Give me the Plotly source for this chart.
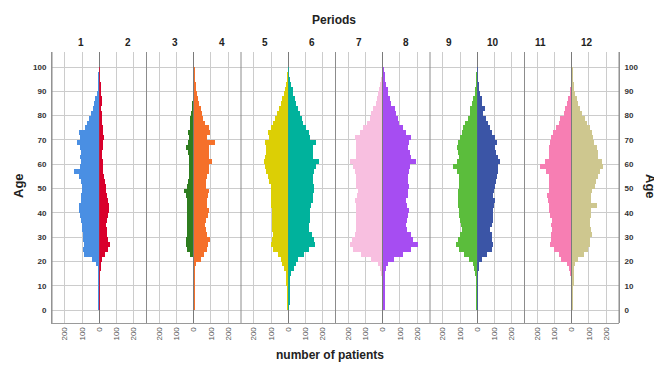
import plotly.graph_objects as go

# ---- data -------------------------------------------------------------
age_bins = list(range(0, 100, 2))          # 2-year bins, bin start
periods = ["1", "2", "3", "4", "5", "6", "7", "8", "9", "10", "11", "12"]

p1 = [2,3,3,4,4,4,5,6,10,20,45,88,92,90,95,95,98,100,105,112,120,118,108,105,102,
      103,105,118,147,112,108,110,108,112,128,110,118,85,72,58,48,38,32,22,15,8,5,3,2,1]
p2 = [2,2,2,3,3,3,3,4,6,10,20,35,52,62,55,47,45,43,45,50,58,60,50,45,40,
      38,35,28,25,22,22,20,20,22,24,27,24,22,20,18,17,14,15,15,14,10,6,4,3,2]
p3 = [1,1,1,1,1,2,2,2,2,3,8,25,40,48,50,45,40,42,40,40,42,45,42,48,60,
      42,35,32,30,31,32,33,38,50,38,32,36,26,24,22,20,14,12,10,8,5,3,2,1,0]
p4 = [2,2,2,2,2,3,3,3,4,10,38,56,75,80,95,78,70,66,70,80,85,78,76,80,85,
      68,70,76,85,90,105,88,85,88,124,78,95,88,66,55,47,38,28,22,16,12,6,3,2,1]
p5 = [3,4,6,8,10,12,12,16,25,35,45,60,90,103,95,90,92,95,95,95,95,100,103,103,103,
      103,110,118,128,135,142,134,130,128,138,114,118,100,90,80,64,55,45,35,25,20,12,6,3,1]
p6 = [4,6,8,10,10,12,14,17,37,45,56,95,124,157,150,138,125,124,126,128,130,134,143,145,150,
      153,148,143,150,163,182,143,145,143,163,130,124,105,90,80,72,60,47,38,30,27,15,6,3,1]
p7 = [4,5,6,6,7,8,9,12,20,31,70,128,176,196,180,167,160,157,157,157,157,160,167,150,147,
      157,157,157,167,175,196,161,160,157,160,167,138,118,95,80,70,58,45,38,30,25,18,12,6,3]
p8 = [6,7,8,9,10,10,12,14,20,27,66,114,163,202,175,163,140,134,140,148,153,140,134,143,148,
      153,148,143,153,160,192,163,155,143,150,163,134,114,95,85,76,72,47,38,30,27,20,14,6,3]
p9 = [3,4,4,5,6,8,9,12,18,25,50,80,109,122,110,103,89,95,99,105,109,110,114,112,110,
      109,108,109,120,142,118,109,112,118,110,99,89,82,70,55,45,41,31,22,15,12,7,4,2,1]
p10 = [2,3,3,3,3,3,4,4,6,8,27,56,85,95,90,85,76,90,95,95,95,100,105,95,100,
       105,110,114,120,124,134,124,110,105,114,105,85,76,66,50,37,47,30,27,18,14,8,4,2,1]
p11 = [3,4,4,5,6,6,8,12,20,31,64,80,109,128,125,122,118,122,118,130,138,134,140,147,138,
       134,134,138,150,186,161,138,136,134,130,122,114,95,80,70,50,42,31,22,15,12,7,4,2,1]
p12 = [3,4,4,5,5,6,6,8,12,17,37,72,91,105,105,114,110,105,105,108,110,143,112,110,114,
       134,140,153,165,182,172,153,150,143,130,124,114,105,90,76,56,47,35,27,18,12,8,4,2,1]

series = [p1, p2, p3, p4, p5, p6, p7, p8, p9, p10, p11, p12]
colors = ["#4a8fe3", "#d9002c", "#2e7d1f", "#f5702a", "#dccf05", "#00b29c",
          "#f8bfe0", "#a64df2", "#5bbd3c", "#3b55a6", "#f77eb3", "#cec78f"]
x_ticks = [0, 100, 200]
y_ticks = list(range(0, 101, 10))

# ---- layout geometry (page pixels; page body has an 8px offset) ------
OFF = 8
W, H = 662 - OFF, 365 - OFF
L, R, T, B = 52 - OFF, 619 - OFF, 52 - OFF, 323 - OFF
xmax = 275
n = len(periods)

fig = go.Figure()
centers = [a + 1 for a in age_bins]

for i, (vals, col) in enumerate(zip(series, colors)):
    ax = "" if i == 0 else str(i + 1)
    fig.add_trace(go.Bar(
        x=vals, y=centers, orientation="h", width=2,
        marker=dict(color=col, line=dict(width=0)),
        xaxis="x" + ax, yaxis="y", showlegend=False,
        hovertemplate="Age %{y}: %{x}<extra></extra>"))

# invisible trace to carry the right-hand age axis
fig.add_trace(go.Scatter(x=[None], y=[None], xaxis="x", yaxis="y2",
                         showlegend=False, hoverinfo="skip"))

layout = dict(
    width=W, height=H,
    margin=dict(l=L, r=W - R, t=T, b=H - B, autoexpand=False),
    paper_bgcolor="white", plot_bgcolor="white",
    bargap=0, barmode="overlay",
    font=dict(family="Liberation Sans, Arial, sans-serif", color="#222"),
)

for i in range(n):
    key = "xaxis" if i == 0 else "xaxis%d" % (i + 1)
    left = (i % 2 == 0)
    tv = x_ticks if left else x_ticks[1:]
    layout[key] = dict(
        domain=[i / n, (i + 1) / n],
        range=[xmax, 0] if left else [0, xmax],
        anchor="y",
        tickvals=tv, ticktext=[str(v) for v in tv],
        tickangle=-90, ticks="",
        tickfont=dict(size=8, color="#555"),
        showgrid=True, gridcolor="#cccccc", gridwidth=1,
        zeroline=True, zerolinecolor="#7a7a7a", zerolinewidth=1,
        showline=True, linecolor="#9a9a9a", linewidth=1,
        fixedrange=True, automargin=False,
    )

ycommon = dict(range=[-5.3, 106.2], tickvals=y_ticks,
               ticktext=["<b>%d</b>" % v for v in y_ticks], ticks="",
               tickfont=dict(size=8, color="#333"), zeroline=False,
               fixedrange=True, automargin=False)
layout["yaxis"] = dict(**ycommon, showgrid=True, gridcolor="#cccccc",
                       gridwidth=1, anchor="x", side="left",
                       showline=True, linecolor="#9a9a9a", ticklabelstandoff=3)
layout["yaxis2"] = dict(**ycommon, showgrid=False, overlaying="y",
                        side="right", anchor="free", position=1.0,
                        showline=True, linecolor="#9a9a9a", ticklabelstandoff=3)

# pair boundary lines
shapes = []
for k in range(0, n + 1, 2):
    shapes.append(dict(type="line", xref="paper", yref="paper",
                       x0=k / n, x1=k / n, y0=0, y1=1,
                       line=dict(color="#8c8c8c", width=1), layer="above"))
layout["shapes"] = shapes

pw = R - L
ph = B - T


def px_x(px):  # page pixel -> paper x
    return (px - OFF - L) / pw


def px_y(py):  # page pixel -> paper y
    return 1 - (py - OFF - T) / ph


ann = []
for i, p in enumerate(periods):
    ann.append(dict(text="<b>%s</b>" % p, x=(i + 0.5) / n, y=px_y(42),
                    xref="paper", yref="paper", showarrow=False,
                    font=dict(size=10, color="#222"), yanchor="middle"))
ann.append(dict(text="<b>Periods</b>", x=px_x(334), y=px_y(20),
                xref="paper", yref="paper", showarrow=False,
                font=dict(size=12, color="#222"), yanchor="middle"))
ann.append(dict(text="<b>number of patients</b>", x=px_x(330), y=px_y(355),
                xref="paper", yref="paper", showarrow=False,
                font=dict(size=12, color="#222"), yanchor="middle"))
ann.append(dict(text="<b>Age</b>", x=px_x(18), y=px_y(186),
                xref="paper", yref="paper", showarrow=False, textangle=-90,
                font=dict(size=13, color="#222"), xanchor="center", yanchor="middle"))
ann.append(dict(text="<b>Age</b>", x=px_x(651), y=px_y(186),
                xref="paper", yref="paper", showarrow=False, textangle=90,
                font=dict(size=13, color="#222"), xanchor="center", yanchor="middle"))
layout["annotations"] = ann

fig.update_layout(**layout)
fig.write_html("out.html")
